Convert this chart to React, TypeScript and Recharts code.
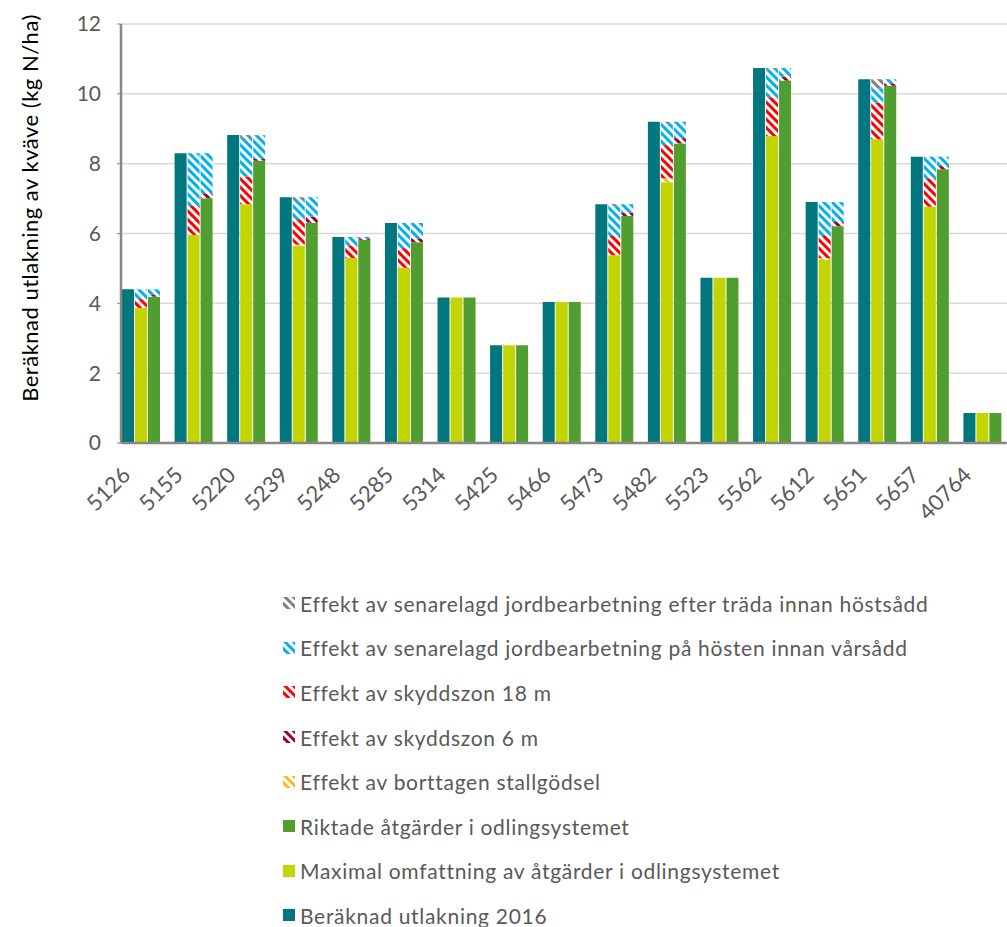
import React from 'react';
import { BarChart, Bar, XAxis, YAxis, CartesianGrid } from 'recharts';

const categories = ['5126', '5155', '5220', '5239', '5248', '5285', '5314', '5425', '5466', '5473', '5482', '5523', '5562', '5612', '5651', '5657', '40764'];

// Beräknad utlakning 2016
const utlakning2016 = [4.40, 8.30, 8.82, 7.04, 5.90, 6.30, 4.17, 2.80, 4.04, 6.84, 9.20, 4.73, 10.74, 6.90, 10.42, 8.20, 0.86];

// middle stack: maximal omfattning + effects
const maximal = [3.87, 5.96, 6.84, 5.65, 5.30, 5.02, 4.17, 2.80, 4.04, 5.38, 7.47, 4.73, 8.79, 5.24, 8.70, 6.77, 0.86];
const maxStallgodsel = [0, 0, 0, 0.03, 0, 0, 0, 0, 0, 0, 0.11, 0, 0, 0.06, 0, 0, 0];
const maxZon18 = [0.25, 0.83, 0.79, 0.73, 0.36, 0.56, 0, 0, 0, 0.55, 0.95, 0, 1.11, 0.63, 1.05, 0.81, 0];
const maxHost = [0.28, 1.51, 1.11, 0.55, 0.24, 0.72, 0, 0, 0, 0.85, 0.61, 0, 0.79, 0.97, 0.41, 0.62, 0];
const maxTrada = [0, 0, 0.08, 0.08, 0, 0, 0, 0, 0, 0.06, 0.06, 0, 0.05, 0, 0.26, 0, 0];

// right stack: riktade åtgärder + effects
const riktade = [4.19, 7.01, 8.08, 6.31, 5.82, 5.75, 4.17, 2.80, 4.04, 6.50, 8.58, 4.73, 10.38, 6.21, 10.23, 7.84, 0.86];
const riktZon6 = [0.05, 0.14, 0.07, 0.17, 0.04, 0.11, 0, 0, 0, 0.10, 0.15, 0, 0.11, 0.12, 0.07, 0.09, 0];
const riktHost = [0.16, 1.15, 0.65, 0.56, 0.04, 0.44, 0, 0, 0, 0.24, 0.47, 0, 0.25, 0.57, 0.12, 0.27, 0];
const riktTrada = [0, 0, 0.02, 0, 0, 0, 0, 0, 0, 0, 0, 0, 0, 0, 0, 0, 0];

const yTicks = [0, 2, 4, 6, 8, 10, 12];

const C = {
  teal: '#00767f',
  lime: '#c3d500',
  green: '#509e30',
  red: '#ff0000',
  blue: '#00b0f0',
  darkred: '#a1002b',
  orange: '#ffb81c',
  grey: '#808080',
  text: '#595959',
};

const FONT = "Lato, 'Noto Sans', sans-serif";

const data = categories.map((name, i) => ({
  name,
  utl: utlakning2016[i],
  max: maximal[i],
  maxStall: maxStallgodsel[i],
  max18: maxZon18[i],
  maxHost: maxHost[i],
  maxTrada: maxTrada[i],
  rikt: riktade[i],
  rikt6: riktZon6[i],
  riktHost: riktHost[i],
  riktTrada: riktTrada[i],
}));

const hatches: [string, string][] = [
  ['hGrey', C.grey],
  ['hBlue', C.blue],
  ['hRed', C.red],
  ['hDarkred', C.darkred],
  ['hOrange', C.orange],
];

const legendItems = [
  { label: 'Effekt av senarelagd jordbearbetning efter träda innan höstsådd', fill: 'url(#hGrey)' },
  { label: 'Effekt av senarelagd jordbearbetning på hösten innan vårsådd', fill: 'url(#hBlue)' },
  { label: 'Effekt av skyddszon 18 m', fill: 'url(#hRed)' },
  { label: 'Effekt av skyddszon 6 m', fill: 'url(#hDarkred)' },
  { label: 'Effekt av borttagen stallgödsel', fill: 'url(#hOrange)' },
  { label: 'Riktade åtgärder i odlingsystemet', fill: C.green },
  { label: 'Maximal omfattning av åtgärder i odlingsystemet', fill: C.lime },
  { label: 'Beräknad utlakning 2016', fill: C.teal },
];

const XTick = (props: any) => {
  const { x, y, payload } = props;
  return (
    <g transform={`translate(${x - 15},${y + 28})`}>
      <text transform="rotate(-45)" textAnchor="end" dy="0.35em" fill={C.text} fontSize={22} fontFamily={FONT}>
        {payload.value}
      </text>
    </g>
  );
};

export default function App() {
  return (
    <div style={{ position: 'absolute', left: 0, top: 0, width: 1007, height: 927, overflow: 'hidden', background: '#fff' }}>
      <svg width={0} height={0} style={{ position: 'absolute' }}>
        <defs>
          {hatches.map(([id, col]) => (
            <pattern key={id} id={id} width={6} height={6} patternUnits="userSpaceOnUse" patternTransform="rotate(-45)">
              <rect width={6} height={6} fill="#fff" />
              <rect width={3} height={6} fill={col} />
            </pattern>
          ))}
        </defs>
      </svg>

      <svg width={60} height={460} style={{ position: 'absolute', left: 0, top: 0 }}>
        <text
          transform="translate(30,208) rotate(-90)"
          textAnchor="middle"
          dy="0.35em"
          fontSize={22}
          letterSpacing={0.5}
          fontFamily={FONT}
          fill="#000"
        >
          Beräknad utlakning av kväve (kg N/ha)
        </text>
      </svg>

      <div style={{ position: 'absolute', left: 0, top: 0 }}>
        <BarChart
          width={1007}
          height={560}
          data={data}
          margin={{ top: 24, right: 0, bottom: 0, left: 0 }}
          barCategoryGap={7}
          barGap={1}
        >
          <CartesianGrid vertical={false} stroke="#d9d9d9" strokeWidth={1.5} />
          <XAxis
            dataKey="name"
            height={117}
            padding={{ left: -6, right: -2 }}
            interval={0}
            tickLine={false}
            tickSize={0}
            tickMargin={0}
            axisLine={{ stroke: '#878787', strokeWidth: 2.5 }}
            tick={<XTick />}
          />
          <YAxis
            width={121}
            domain={[0, 12]}
            ticks={yTicks}
            interval={0}
            tickSize={4}
            tickMargin={16}
            tickLine={{ stroke: '#878787' }}
            axisLine={{ stroke: '#878787', strokeWidth: 2.5 }}
            tick={{ fill: C.text, fontSize: 21, fontFamily: FONT }}
          />
          <Bar dataKey="utl" stackId="t" fill={C.teal} isAnimationActive={false} />

          <Bar dataKey="max" stackId="m" fill={C.lime} isAnimationActive={false} />
          <Bar dataKey="maxStall" stackId="m" fill="url(#hOrange)" isAnimationActive={false} />
          <Bar dataKey="max18" stackId="m" fill="url(#hRed)" isAnimationActive={false} />
          <Bar dataKey="maxHost" stackId="m" fill="url(#hBlue)" isAnimationActive={false} />
          <Bar dataKey="maxTrada" stackId="m" fill="url(#hGrey)" isAnimationActive={false} />

          <Bar dataKey="rikt" stackId="r" fill={C.green} isAnimationActive={false} />
          <Bar dataKey="rikt6" stackId="r" fill="url(#hDarkred)" isAnimationActive={false} />
          <Bar dataKey="riktHost" stackId="r" fill="url(#hBlue)" isAnimationActive={false} />
          <Bar dataKey="riktTrada" stackId="r" fill="url(#hGrey)" isAnimationActive={false} />
        </BarChart>
      </div>

      <div style={{ position: 'absolute', left: 283, top: 581, fontFamily: FONT, fontSize: 21, letterSpacing: 0.7, color: C.text }}>
        {legendItems.map((it) => (
          <div key={it.label} style={{ display: 'flex', alignItems: 'center', height: 44.6 }}>
            <svg width={12} height={12} style={{ marginRight: 5 }}>
              <rect width={12} height={12} fill={it.fill} />
            </svg>
            <span>{it.label}</span>
          </div>
        ))}
      </div>
    </div>
  );
}
